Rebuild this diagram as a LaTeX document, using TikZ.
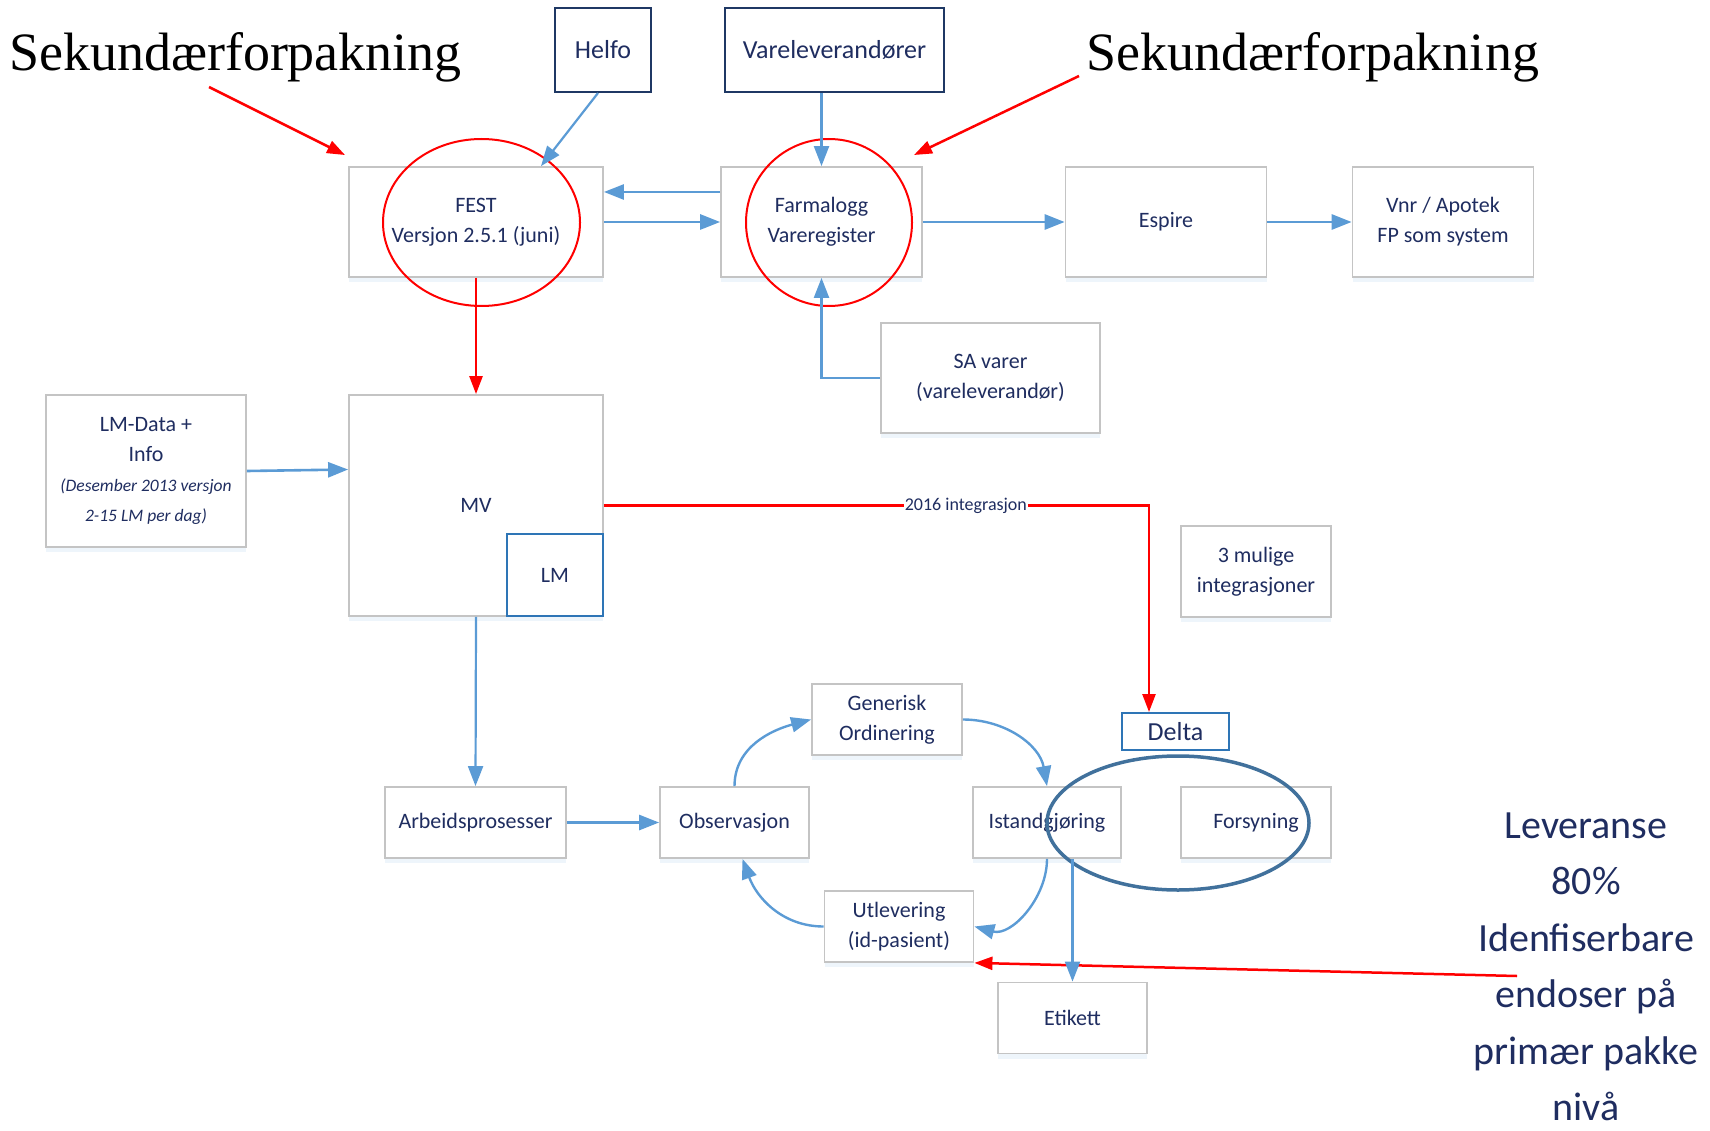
\documentclass[tikz,border=0pt]{standalone}
\usepackage{fontspec}
\setmainfont{Carlito}
\newfontfamily\timesfont{Liberation Serif}
\usetikzlibrary{arrows.meta,shapes.geometric,shadows}
\definecolor{navy}{RGB}{31,45,96}
\definecolor{darkblue}{RGB}{31,56,100}
\definecolor{midblue}{RGB}{46,117,182}
\definecolor{arrowblue}{RGB}{91,155,213}
\definecolor{ellblue}{RGB}{65,113,156}
\definecolor{boxgrey}{RGB}{196,196,196}
\definecolor{pured}{RGB}{255,0,0}
\newcommand{\lmsmall}{\itshape\fontsize{17.5}{28}\selectfont}
\begin{document}
\begin{tikzpicture}[x=1pt,y=1pt,
  greybox/.style={draw=boxgrey, line width=1.8pt, fill=white, text=navy, align=center,
    font=\fontsize{22}{30}\selectfont, inner sep=2pt,
    drop shadow={shadow xshift=0pt, shadow yshift=-5pt, opacity=0.25, fill=arrowblue!40}},
  darkbox/.style={draw=darkblue, line width=2pt, fill=white, text=navy, align=center,
    font=\fontsize{26}{30}\selectfont, inner sep=2pt},
  bluebox/.style={draw=midblue, line width=2pt, fill=white, text=navy, align=center,
    font=\fontsize{22}{30}\selectfont, inner sep=2pt},
  bigtxt/.style={font=\timesfont\fontsize{54}{60}\selectfont, text=black, inner sep=0pt},
  flow/.style={draw=arrowblue, line width=2.4pt, -{Triangle[length=20pt,width=15pt]}},
  redflow/.style={draw=pured, line width=2.5pt, -{Triangle[length=18pt,width=13pt]}},
  ring/.style={ellipse, draw=pured, line width=2pt, inner sep=0pt},
]
\useasboundingbox (0,0) rectangle (1710,-1131);

% big labels
\node[bigtxt, anchor=base] (sek1) at (235.5,-71) {Sekundærforpakning};
\node[bigtxt, anchor=base] (sek2) at (1312.5,-71) {Sekundærforpakning};

% top boxes
\node[darkbox, minimum width=96pt, minimum height=84pt] (helfo) at (603,-50) {Helfo};
\node[darkbox, minimum width=219pt, minimum height=84pt] (vare) at (834.5,-50) {Vareleverandører};

\node[greybox, minimum width=254pt, minimum height=110pt] (fest) at (476,-222) {FEST\\Versjon 2.5.1 (juni)};
\node[greybox, minimum width=201pt, minimum height=110pt] (farma) at (821.5,-222) {Farmalogg\\Vareregister};
\node[greybox, minimum width=201pt, minimum height=110pt] (espire) at (1166,-222) {Espire};
\node[greybox, minimum width=181pt, minimum height=110pt] (vnr) at (1443,-222) {Vnr / Apotek\\FP som system};
\node[greybox, minimum width=219pt, minimum height=110pt] (sa) at (990.5,-378) {SA varer\\(vareleverandør)};

\node[greybox, minimum width=200pt, minimum height=152pt] (lmdata) at (146,-471)
  {LM-Data +\\Info\\\lmsmall (Desember 2013 versjon\\\lmsmall 2-15 LM per dag)};
\node[greybox, minimum width=254pt, minimum height=221pt] (mv) at (476,-505.5) {MV};
\node[bluebox, minimum width=96pt, minimum height=82pt] (lm) at (555,-575) {LM};

\node[greybox, minimum width=150pt, minimum height=91pt] (mulige) at (1256,-571.5) {3 mulige\\integrasjoner};

% lower process
\node[greybox, minimum width=181pt, minimum height=71pt] (arb) at (475.5,-822.5) {Arbeidsprosesser};
\node[greybox, minimum width=149pt, minimum height=71pt] (obs) at (734.5,-822.5) {Observasjon};
\node[greybox, minimum width=150pt, minimum height=71pt] (gen) at (887,-719.5) {Generisk\\Ordinering};
\node[greybox, minimum width=148pt, minimum height=71pt] (ist) at (1047,-822.5) {Istandgjøring};
\node[greybox, minimum width=150pt, minimum height=71pt] (fors) at (1256,-822.5) {Forsyning};
\node[greybox, minimum width=149pt, minimum height=71pt] (utl) at (899,-926.5) {Utlevering\\(id-pasient)};
\node[greybox, minimum width=149pt, minimum height=71pt] (eti) at (1072.5,-1018) {Etikett};
\node[bluebox, minimum width=107pt, minimum height=37pt, font=\fontsize{26}{30}\selectfont] (delta) at (1175.5,-731.5) {Delta};

% right text
\node[text=navy, align=center, inner sep=0pt, font=\fontsize{40}{56.5}\selectfont] (lev) at (1586,-967)
  {Leveranse\\80\%\\Idenfiserbare\\endoser på\\primær pakke\\nivå};

% ellipses
\node[ring, minimum width=197pt, minimum height=167pt] (festring) at (481.5,-222.5) {};
\node[ring, minimum width=166pt, minimum height=167pt] (farmaring) at (829,-222.5) {};
\node[ellipse, draw=ellblue, line width=3.5pt, inner sep=0pt, minimum width=262pt, minimum height=134pt] (deltaring) at (1178,-823) {};

% free ends
\coordinate (r1s) at (209,-87);
\coordinate (r1e) at (345,-155);
\coordinate (r2s) at (1079,-76);
\coordinate (r2e) at (914,-155);
\coordinate (r3s) at (1517,-976);

% red connectors
\draw[redflow] (r1s) -- (r1e);
\draw[redflow] (r2s) -- (r2e);
\draw[redflow] (fest.south) -- (mv.north);
\draw[redflow] (mv.east) -| node[pos=0.332, fill=white, inner sep=1pt, text=navy, font=\fontsize{18}{20}\selectfont] {2016 integrasjon} ([xshift=-26.5pt]delta.north);
\draw[redflow] (r3s) -- (utl.south east);

% blue connectors
\draw[flow, line width=2.2pt] ([xshift=-5pt]helfo.south) -- ([xshift=65pt]fest.north);
\draw[flow, line width=2.2pt] (farma.north |- vare.south) -- (farma.north);
\draw[flow, line width=2.8pt] ([yshift=30pt]farma.west) -- ([yshift=30pt]fest.east);
\draw[flow, line width=2.8pt] (fest.east) -- (farma.west);
\draw[flow, line width=2.8pt] (farma.east) -- (espire.west);
\draw[flow, line width=2.8pt] (espire.east) -- (vnr.west);
\draw[flow, line width=2.2pt] (sa.west) -| (farma.south);
\draw[flow, line width=2.6pt] (lmdata.east) -- ([yshift=36pt]mv.west);
\draw[flow, line width=2.2pt] (mv.south) -- (arb.north);
\draw[flow, line width=2.8pt] (arb.east) -- (obs.west);
\draw[flow] (obs.north) to[out=90, in=195] (gen.west);
\draw[flow] (gen.east) to[out=0, in=100] (ist.north);
\draw[flow] (ist.south) to[out=-90, in=-15] (utl.east);
\draw[flow] (utl.west) to[out=180, in=-70] ([xshift=8pt]obs.south);
\draw[flow, line width=2.2pt] (eti.north |- ist.south) -- (eti.north);
\end{tikzpicture}
\end{document}
